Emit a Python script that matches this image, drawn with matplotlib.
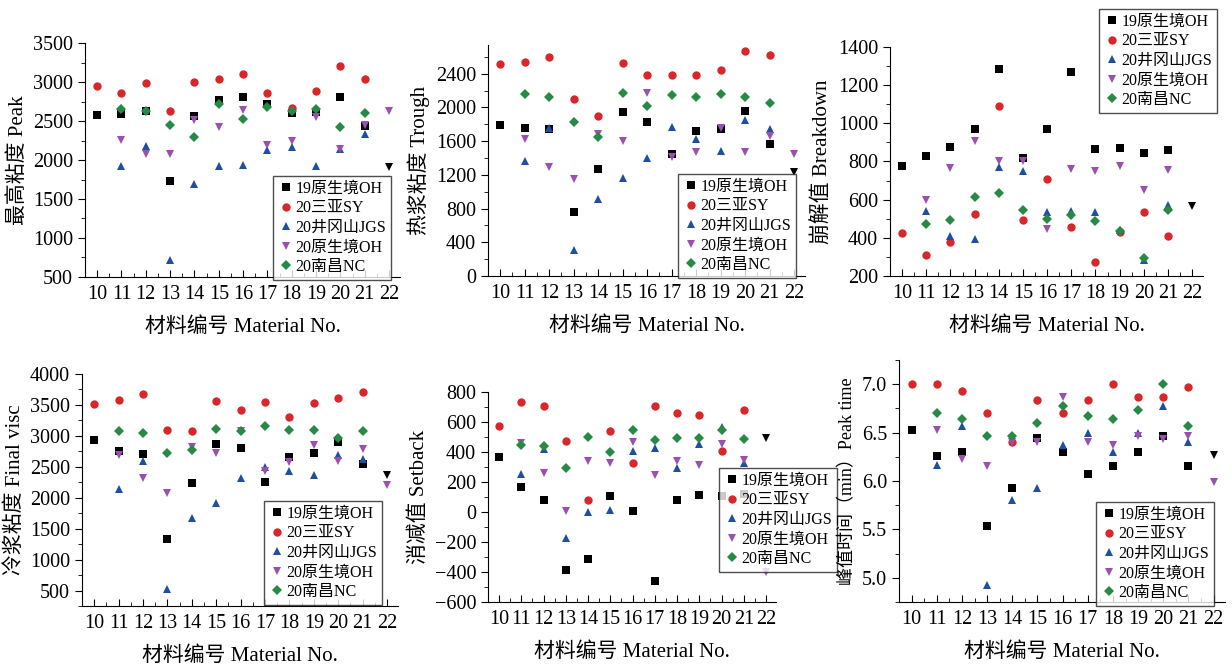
import numpy as np
import matplotlib
matplotlib.use("Agg")
import matplotlib.pyplot as plt
from matplotlib.ticker import MultipleLocator

nan = np.nan
materials = list(range(10, 23))
series_names = ["19原生境OH", "20三亚SY", "20井冈山JGS", "20原生境OH", "20南昌NC"]

# 最高粘度 Peak
peak_oh19 = [2573, 2585, 2632, 1735, 2560, 2765, 2803, 2722, 2603, 2620, 2812, 2432, nan]
peak_sy20 = [2944, 2863, 2983, 2632, 3004, 3038, 3107, 2855, 2667, 2885, 3209, 3038, nan]
peak_jgs20 = [nan, 1919, 2184, 722, 1697, 1919, 1940, 2124, 2167, 1919, 2141, 2329, nan]
peak_oh20 = [nan, 2252, 2081, 2081, 2509, 2419, 2637, 2188, 2244, 2551, 2145, 2450, 2624]
peak_nc20 = [nan, 2654, 2632, 2453, 2295, 2722, 2530, 2679, 2624, 2660, 2423, 2603, nan]
peak_22 = 1906

# 热浆粘度 Trough
trough_oh19 = [1791, 1751, 1743, 755, 1265, 1941, 1822, 1443, 1723, 1743, 1957, 1565, nan]
trough_sy20 = [2510, 2542, 2593, 2095, 1901, 2530, 2383, 2383, 2379, 2447, 2664, 2617, nan]
trough_jgs20 = [nan, 1364, 1759, 312, 917, 1162, 1399, 1763, 1621, 1478, 1846, 1743, nan]
trough_oh20 = [nan, 1628, 1292, 1154, 1688, 1597, 2170, 1411, 1466, 1759, 1466, 1664, 1443]
trough_nc20 = [nan, 2162, 2123, 1826, 1648, 2170, 2020, 2146, 2119, 2158, 2119, 2047, nan]
trough_22 = 1233

# 崩解值 Breakdown
bd_oh19 = [774, 830, 877, 972, 1287, 816, 970, 1271, 868, 870, 847, 858, nan]
bd_sy20 = [427, 312, 377, 525, 1092, 496, 706, 457, 275, 430, 534, 408, nan]
bd_jgs20 = [nan, 539, 412, 396, 769, 749, 536, 539, 536, 440, 284, 571, nan]
bd_oh20 = [nan, 599, 767, 907, 805, 805, 447, 760, 748, 779, 650, 758, nan]
bd_nc20 = [nan, 473, 496, 615, 634, 545, 499, 522, 490, 438, 293, 546, nan]
bd_22 = 569

# 冷浆粘度 Final visc
final_oh19 = [2931, 2753, 2699, 1327, 2240, 2861, 2796, 2250, 2661, 2726, 2904, 2553, nan]
final_sy20 = [3509, 3584, 3676, 3093, 3077, 3563, 3417, 3546, 3309, 3525, 3606, 3703, nan]
final_jgs20 = [nan, 2148, 2601, 517, 1678, 1916, 2321, 2499, 2434, 2364, 2683, 2623, nan]
final_oh20 = [nan, 2688, 2321, 2078, 2828, 2731, 3082, 2434, 2580, 2855, 2591, 2785, 2213]
final_nc20 = [nan, 3082, 3050, 2731, 2774, 3109, 3077, 3152, 3098, 3093, 2963, 3082, nan]
final_22 = 2369

# 消减值 Setback
sb_oh19 = [367, 169, 78, -389, -313, 104, 7, -460, 80, 113, 110, 120, nan]
sb_sy20 = [574, 736, 709, 473, 78, 539, 324, 707, 660, 647, 407, 680, nan]
sb_jgs20 = [nan, 253, 420, -171, 2, 13, 404, 427, 293, 453, 567, 330, nan]
sb_oh20 = [nan, 461, 260, 9, 341, 326, 468, 247, 340, 313, 453, 350, -400]
sb_nc20 = [nan, 450, 439, 291, 497, 399, 550, 480, 494, 493, 547, 487, nan]
sb_22 = 493

# 峰值时间 Peak time
pt_oh19 = [6.53, 6.26, 6.30, 5.53, 5.93, 6.44, 6.30, 6.07, 6.16, 6.30, 6.47, 6.16, nan]
pt_sy20 = [7.00, 7.00, 6.93, 6.70, 6.40, 6.84, 6.70, 6.84, 7.00, 6.87, 6.87, 6.97, nan]
pt_jgs20 = [nan, 6.17, 6.57, 4.93, 5.80, 5.93, 6.37, 6.50, 6.30, 6.50, 6.77, 6.40, nan]
pt_oh20 = [nan, 6.53, 6.23, 6.15, 6.40, 6.40, 6.87, 6.40, 6.37, 6.46, 6.43, 6.46, 5.99]
pt_nc20 = [nan, 6.70, 6.64, 6.47, 6.47, 6.60, 6.77, 6.67, 6.64, 6.73, 7.00, 6.57, nan]
pt_22 = 6.27

plt.rcParams["font.family"] = ["Liberation Serif", "Noto Sans CJK SC"]
plt.rcParams["axes.unicode_minus"] = True

colors = ["#000000", "#d9262b", "#1f4fa0", "#9b4fb0", "#268a45"]
markers = ["s", "o", "^", "v", "D"]
sizes = [5.5, 6, 6, 6, 5]

W, H = 1232, 667
fig = plt.figure(figsize=(W / 100, H / 100), dpi=100)


def add_panel(px, data, extra, ylabel, ylim, major, minor, legend_px,
              fmt=None, ylabel_size=15):
    l, r, t, b = px
    ax = fig.add_axes([l / W, 1 - b / H, (r - l) / W, (b - t) / H])
    for vals, c, m, ms, name in zip(data, colors, markers, sizes, series_names):
        ax.plot(materials, vals, linestyle="none", marker=m, color=c,
                markersize=ms, markeredgewidth=0, label=name)
    ax.plot([materials[-1]], [extra], linestyle="none", marker="v",
            color="#000000", markersize=6, markeredgewidth=0)
    ax.set_xlim(9.5, 22.45)
    ax.set_ylim(*ylim)
    ax.set_xticks(materials)
    ax.xaxis.set_minor_locator(MultipleLocator(0.5))
    ax.yaxis.set_major_locator(MultipleLocator(major))
    ax.yaxis.set_minor_locator(MultipleLocator(minor))
    if fmt:
        ax.yaxis.set_major_formatter(fmt)
    ax.spines["top"].set_visible(False)
    ax.spines["right"].set_visible(False)
    ax.tick_params(axis="x", which="both", direction="in", labelsize=14.5, pad=6)
    ax.tick_params(axis="x", which="major", length=5)
    ax.tick_params(axis="x", which="minor", length=3)
    ax.tick_params(axis="y", which="both", direction="out", labelsize=14.5)
    ax.tick_params(axis="y", which="major", length=5)
    ax.tick_params(axis="y", which="minor", length=3)
    ax.set_xlabel("材料编号 Material No.", fontsize=15, labelpad=9)
    ax.set_ylabel(ylabel, fontsize=ylabel_size, labelpad=4)
    lx, ly = legend_px
    leg = ax.legend(loc="upper left", bbox_to_anchor=(lx / W, 1 - ly / H),
                    bbox_transform=fig.transFigure, fontsize=11.5, frameon=True,
                    fancybox=False, borderpad=0.3, handletextpad=0.1,
                    handlelength=1.0, labelspacing=0.22, borderaxespad=0)
    leg.get_frame().set_edgecolor("#222222")
    leg.get_frame().set_linewidth(1.0)
    return ax


add_panel((85, 400, 43, 277),
          [peak_oh19, peak_sy20, peak_jgs20, peak_oh20, peak_nc20], peak_22,
          "最高粘度 Peak", (500, 3500), 500, 250, (273, 176))
add_panel((488, 805, 45, 276),
          [trough_oh19, trough_sy20, trough_jgs20, trough_oh20, trough_nc20], trough_22,
          "热浆粘度 Trough", (0, 2740), 400, 200, (678, 174))
add_panel((890, 1203, 47, 276),
          [bd_oh19, bd_sy20, bd_jgs20, bd_oh20, bd_nc20], bd_22,
          "崩解值 Breakdown", (200, 1400), 200, 100, (1099, 9))
add_panel((82, 398, 374, 606),
          [final_oh19, final_sy20, final_jgs20, final_oh20, final_nc20], final_22,
          "冷浆粘度 Final visc", (250, 4000), 500, 250, (264, 501))
add_panel((488, 776, 392, 602),
          [sb_oh19, sb_sy20, sb_jgs20, sb_oh20, sb_nc20], sb_22,
          "消减值 Setback", (-600, 800), 200, 100, (719, 468))
add_panel((899, 1225, 360, 602),
          [pt_oh19, pt_sy20, pt_jgs20, pt_oh20, pt_nc20], pt_22,
          "峰值时间（min）Peak time", (4.75, 7.25), 0.5, 0.25, (1096, 502),
          fmt=matplotlib.ticker.FormatStrFormatter("%.1f"), ylabel_size=13)

fig.savefig("out.png", dpi=100)
